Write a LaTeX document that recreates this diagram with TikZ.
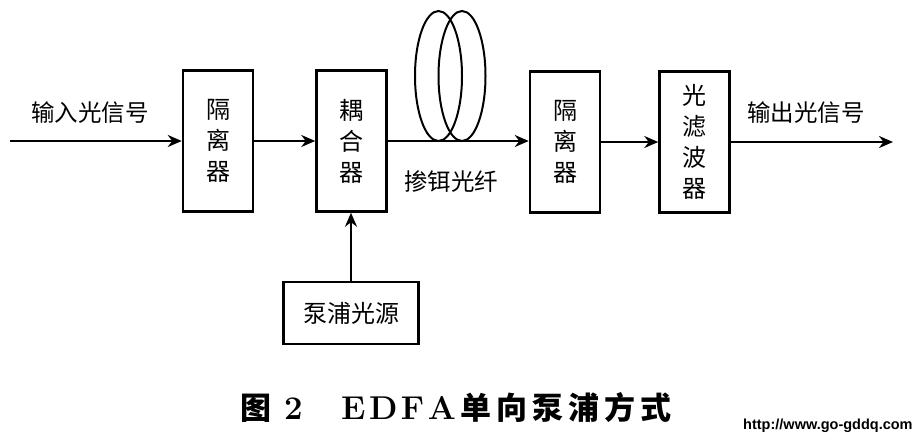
\documentclass[tikz,border=0pt]{standalone}
\usepackage{fontspec}
\newfontfamily\cjk{Noto Sans CJK SC}
\newfontfamily\urlfont{Liberation Sans}
\usetikzlibrary{arrows.meta}
\begin{document}
\begin{tikzpicture}[x=1pt,y=-1pt,
  blk/.style={draw,line width=2.5pt,minimum width=70pt,minimum height=141pt,inner sep=0pt,font=\cjk\fontsize{24}{31}\selectfont,align=center},
  pbox/.style={draw,line width=2.5pt,minimum width=135pt,minimum height=62pt,inner sep=0pt,font=\cjk\fontsize{24}{30}\selectfont},
  lbl/.style={font=\cjk\fontsize{23.5}{25}\selectfont,inner sep=0pt},
  conn/.style={line width=2.5pt,-{Stealth[length=14pt,width=12pt]}},
  coil/.style={line width=2pt}]
\useasboundingbox (0,0) rectangle (922,440);
\node[blk] (iso1) at (218,141) {隔\\离\\器};
\node[blk] (coup) at (351.5,141) {耦\\合\\器};
\node[blk] (iso2) at (565,142) {隔\\离\\器};
\node[blk] (filt) at (694.5,142) {光\\滤\\波\\器};
\node[pbox] (pump) at (351,313) {泵浦光源};
\coordinate (in) at (10,141);
\coordinate (out) at (893,142);
\draw[conn] (in) -- (iso1.west |- in);
\draw[conn] (iso1.east |- in) -- (coup.west |- in);
\draw[conn] (coup.east |- in) -- (iso2.west |- in);
\draw[conn] (iso2.east) -- (filt.west);
\draw[conn] (filt.east) -- (out);
\draw[conn] (pump.north) -- (pump.north |- coup.south);
\draw[coil] (438.5,76) ellipse [x radius=23.5, y radius=65];
\draw[coil] (462,76) ellipse [x radius=23.5, y radius=65];
\node[lbl] (tin) at (90,113) {输入光信号};
\node[lbl] (tfib) at (451,182) {掺铒光纤};
\node[lbl] (tout) at (806,113) {输出光信号};
\node[anchor=base west,inner sep=0pt] (cap) at (240,419)
  {\makebox[31pt][l]{\cjk\bfseries\fontsize{31}{34}\selectfont 图}\hspace{13pt}%
   \makebox[17pt][l]{\rmfamily\bfseries\fontsize{33}{34}\selectfont 2}\hspace{40pt}%
   {\rmfamily\bfseries\fontsize{33}{34}\selectfont E\hspace{3.5pt}D\hspace{3.5pt}F\hspace{3.5pt}A}\hspace{5pt}%
   {\cjk\bfseries\fontsize{31}{34}\selectfont 单\hspace{5pt}向\hspace{5pt}泵\hspace{5pt}浦\hspace{5pt}方\hspace{5pt}式}};
\node[anchor=base west,inner sep=0pt,font=\urlfont\bfseries\fontsize{14.5}{16}\selectfont] (url) at (743,429) {http://www.go-gddq.com};
\end{tikzpicture}
\end{document}
